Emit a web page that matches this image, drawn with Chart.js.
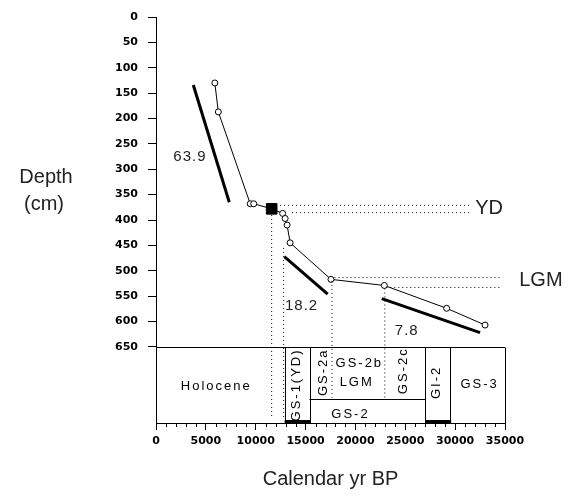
<!DOCTYPE html>
<html>
<head>
<meta charset="utf-8">
<script src="https://cdn.jsdelivr.net/npm/chart.js@4.4.1/dist/chart.umd.min.js"></script>
<style>
  html, body { margin: 0; padding: 0; background: #fff; }
  #wrap { width: 570px; height: 497px; }
</style>
</head>
<body>
<div id="wrap"><canvas id="chart" width="570" height="497"></canvas></div>
<script>
// Age-depth model, values
const ageYears = [5900, 6250, 9450, 9800, 11600, 12700, 12950, 13150, 13450, 17550, 22900, 29150, 33000];
const depthCm = [130, 187, 368, 368, 378, 387, 397, 410, 445, 517, 529, 574, 607];
const markerIndex = 4; // filled square (YD)

// sedimentation-rate segments and their labels
const rateAges = [[3740, 7350], [12870, 17220], [22640, 32500]];
const rateDepths = [[134, 365], [472, 546], [555, 622]];
const rateLabels = ['63.9', '18.2', '7.8'];
const rateLabelAge = [3400, 14600, 25150];
const rateLabelDepth = [276, 569, 618];

// dotted guide lines
const guideAges = [[12450, 31500], [13650, 31500], [17900, 34700], [23100, 34700],
                   [11600, 11600], [12800, 12800], [17650, 17650], [22950, 22950]];
const guideDepths = [[371, 371], [385.5, 385.5], [513.5, 513.5], [533, 533],
                     [390, 790], [455, 790], [520, 750], [535, 750]];
const guideLabels = ['YD', 'LGM'];
const guideLabelAge = [33400, 38600];
const guideLabelDepth = [377, 520];

// stratigraphy strip below the axis
const stageNames = ['Holocene', 'GS-1(YD)', 'GS-2', 'GI-2', 'GS-3'];
const stageFrom = [0, 12900, 15400, 27000, 29500];
const stageTo = [12900, 15400, 27000, 29500, 35000];
const stageLabelAge = [6050, 14110, 19500, 28150, 32450];
const stageLabelDepth = [728, 725, 784, 720, 723];
const stageVertical = [false, true, false, true, false];
const stageThickBase = [false, true, false, true, false];
const subNames = ['GS-2a', 'GS-2b', 'LGM', 'GS-2c'];
const subLabelAge = [16780, 20390, 20130, 24800];
const subLabelDepth = [700, 683, 721, 697];
const subVertical = [true, false, false, true];
const stripTop = 650, stripDivider = 753, stripBottom = 800;

const pts = (xs, ys) => xs.map((v, i) => ({ x: v, y: ys[i] }));

const datasets = [];
guideAges.forEach((xs, i) => datasets.push({
  data: pts(xs, guideDepths[i]), showLine: true, borderColor: '#000',
  borderWidth: 1, borderDash: [1, 3], pointRadius: 0
}));
rateAges.forEach((xs, i) => datasets.push({
  data: pts(xs, rateDepths[i]), showLine: true, borderColor: '#000',
  borderWidth: 3, pointRadius: 0
}));
datasets.push({
  data: pts(ageYears, depthCm), showLine: true, borderColor: '#000', borderWidth: 1,
  pointRadius: ctx => ctx.dataIndex === markerIndex ? 0 : 3,
  pointBackgroundColor: '#fff', pointBorderColor: '#000', pointBorderWidth: 1
});
datasets.push({
  data: [{ x: ageYears[markerIndex], y: depthCm[markerIndex] }],
  pointStyle: 'rect', pointRadius: 7.5, pointBackgroundColor: '#000', pointBorderColor: '#000'
});

const extras = {
  id: 'extras',
  afterDraw(chart) {
    const { ctx, scales: { x, y } } = chart;
    const px = v => x.getPixelForValue(v);
    const py = v => y.getPixelForValue(v);
    ctx.save();
    ctx.strokeStyle = '#000';
    ctx.fillStyle = '#000';
    ctx.lineWidth = 1;

    // minor ticks on the age axis
    ctx.beginPath();
    for (let v = x.min; v <= x.max; v += 1000) {
      if (v % 5000 === 0) continue;
      const X = Math.round(px(v)) + 0.5;
      ctx.moveTo(X, y.bottom);
      ctx.lineTo(X, y.bottom + 4);
    }
    ctx.stroke();

    // strip boxes
    ctx.beginPath();
    const top = Math.round(py(stripTop)) + 0.5;
    ctx.moveTo(px(0), top);
    ctx.lineTo(px(x.max), top);
    stageTo.forEach(v => {
      const X = Math.round(px(v)) + 0.5;
      ctx.moveTo(X, top);
      ctx.lineTo(X, py(stripBottom));
    });
    const div = Math.round(py(stripDivider)) + 0.5;
    ctx.moveTo(px(stageFrom[2]), div);
    ctx.lineTo(px(stageTo[2]), div);
    ctx.stroke();
    stageThickBase.forEach((t, i) => {
      if (!t) return;
      ctx.fillRect(px(stageFrom[i]), py(stripBottom) - 3, px(stageTo[i]) - px(stageFrom[i]) + 1, 3);
    });

    const label = (txt, ax, dp, vertical, font, spacing) => {
      ctx.save();
      ctx.font = font;
      ctx.letterSpacing = spacing;
      ctx.textAlign = 'center';
      ctx.textBaseline = 'middle';
      ctx.translate(px(ax), py(dp));
      if (vertical) ctx.rotate(-Math.PI / 2);
      ctx.fillText(txt, 0, 0);
      ctx.restore();
    };
    const boxFont = '13px "Liberation Sans", Arial, sans-serif';
    stageNames.forEach((n, i) => label(n, stageLabelAge[i], stageLabelDepth[i], stageVertical[i], boxFont, '2px'));
    subNames.forEach((n, i) => label(n, subLabelAge[i], subLabelDepth[i], subVertical[i], boxFont, '2px'));

    ctx.fillStyle = '#222';
    rateLabels.forEach((n, i) => label(n, rateLabelAge[i], rateLabelDepth[i], false,
      '15px "Liberation Sans", Arial, sans-serif', '1px'));
    guideLabels.forEach((n, i) => label(n, guideLabelAge[i], guideLabelDepth[i], false,
      '20px "Liberation Sans", Arial, sans-serif', '0px'));

    // horizontal y-axis title
    ctx.font = '20px "Liberation Sans", Arial, sans-serif';
    ctx.textAlign = 'center';
    ctx.textBaseline = 'middle';
    ctx.fillText('Depth', 46, py(317));
    ctx.fillText('(cm)', 44, py(370));
    ctx.restore();
  }
};

const tickFont = { family: 'DejaVu Sans', weight: 'bold', size: 11 };

new Chart(document.getElementById('chart'), {
  type: 'scatter',
  data: { datasets },
  plugins: [extras],
  options: {
    responsive: false,
    animation: false,
    layout: { padding: { top: 17, right: 65, left: 0, bottom: 0 } },
    plugins: { legend: { display: false }, tooltip: { enabled: false } },
    scales: {
      x: {
        type: 'linear', min: 0, max: 35000,
        afterFit: s => { s.height = 74; },
        ticks: { stepSize: 5000, autoSkip: false, maxRotation: 0, color: '#000', font: tickFont,
                 padding: 5, format: { useGrouping: false } },
        grid: { drawOnChartArea: false, color: '#000', tickLength: 7 },
        border: { color: '#000', width: 1 },
        title: { display: true, text: 'Calendar yr BP', color: '#222',
                 font: { family: 'Liberation Sans', size: 20 }, padding: { top: 4, bottom: 6 } }
      },
      y: {
        type: 'linear', reverse: true, min: 0, max: 800,
        afterBuildTicks: s => { s.ticks = s.ticks.filter(t => t.value <= 650); },
        afterFit: s => { s.width = 156; },
        ticks: { stepSize: 50, color: '#000', font: tickFont, padding: 10 },
        grid: { drawOnChartArea: false, color: '#000', tickLength: 8 },
        border: { color: '#000', width: 1 }
      }
    }
  }
});
</script>
</body>
</html>
